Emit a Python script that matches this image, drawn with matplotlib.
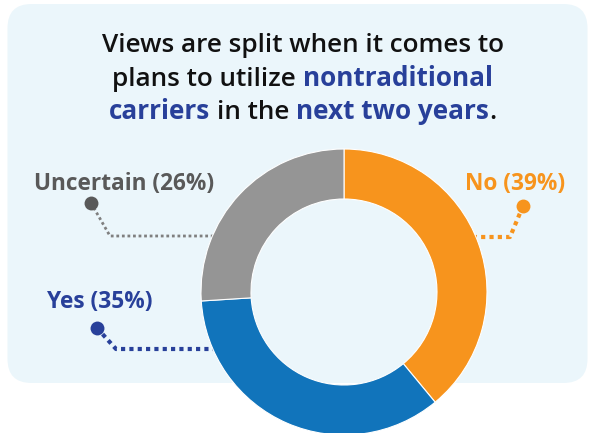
import matplotlib.pyplot as plt
from matplotlib.patches import FancyBboxPatch

# survey answers, clockwise from 12 o'clock
answers = ["No", "Yes", "Uncertain"]
shares = [39, 35, 26]

slice_colors = ["#F7941D", "#1174BB", "#959595"]
label_colors = ["#F7941D", "#28409A", "#595959"]
line_colors = ["#F7941D", "#28409A", "#7F7F7F"]

W, H = 589, 433
BLACK = "#111111"
BLUE = "#28409A"

plt.rcParams["font.family"] = ["Open Sans", "DejaVu Sans"]

fig = plt.figure(figsize=(W / 100, H / 100), dpi=100)
ax = fig.add_axes([0, 0, 1, 1])


def fy(y):
    # pixel row (from top) -> axis y
    return H - y


# light blue panel
panel = FancyBboxPatch((7.5, fy(383)), 580, 379,
                       boxstyle="round,pad=0,rounding_size=24",
                       facecolor="#EBF6FB", edgecolor="none", zorder=0)
ax.add_patch(panel)

# leader lines (dot -> elbow -> under the ring)
leaders = {
    "No": [(523, 206), (510, 237), (470, 237)],
    "Yes": [(97, 328), (116, 349), (225, 349)],
    "Uncertain": [(91, 203), (110, 236), (220, 236)],
}
label_pos = {"No": (465, 190), "Yes": (47, 308), "Uncertain": (34, 190)}

for name, lc, tc in zip(answers, line_colors, label_colors):
    pts = leaders[name]
    xs = [p[0] for p in pts]
    ys = [fy(p[1]) for p in pts]
    lw = 2 if name == "Uncertain" else 3
    ax.plot(xs, ys, color=lc, lw=lw, ls=(0, (1, 1)), zorder=1,
            solid_capstyle="butt", dash_capstyle="butt")
    ax.plot(xs[0], ys[0], "o", color=tc, ms=10, mew=0, zorder=2)
    share = shares[answers.index(name)]
    lx, ly = label_pos[name]
    ax.text(lx, fy(ly), f"{name} ({share}%)", color=tc, fontsize=16.3,
            fontweight="bold", ha="left", va="baseline")

# donut
ax.pie(shares, colors=slice_colors, startangle=90, counterclock=False,
       center=(344, fy(292)), radius=143,
       wedgeprops=dict(width=50, edgecolor="white", linewidth=0.8))

ax.set_xlim(0, W)
ax.set_ylim(0, H)
ax.set_aspect("auto")
ax.axis("off")

# title with coloured phrases
title_lines = [
    [("Views are split when it comes to", BLACK, "semibold", False)],
    [("plans to utilize", BLACK, "semibold", False),
     ("nontraditional", BLUE, "bold", True)],
    [("carriers", BLUE, "bold", False),
     ("in the", BLACK, "semibold", True),
     ("next two years", BLUE, "bold", True),
     (".", BLACK, "semibold", False)],
]
title_baselines = [52, 85.5, 119]
title_size = 18.8

renderer = fig.canvas.get_renderer()


def text_width(s, weight):
    t = ax.text(0, 0, s, fontsize=title_size, fontweight=weight)
    w = t.get_window_extent(renderer).width
    t.remove()
    return w


space_w = text_width("x x", "semibold") - text_width("xx", "semibold")

for pieces, base in zip(title_lines, title_baselines):
    items = []
    total = 0
    for s, c, wt, gap in pieces:
        if gap:
            total += space_w
        t = ax.text(0, fy(base), s, color=c, fontsize=title_size,
                    fontweight=wt, ha="left", va="baseline")
        w = t.get_window_extent(renderer).width
        items.append((t, total))
        total += w
    x0 = 302.5 - total / 2
    for t, off in items:
        t.set_x(x0 + off)

fig.savefig("out.png", dpi=100)
